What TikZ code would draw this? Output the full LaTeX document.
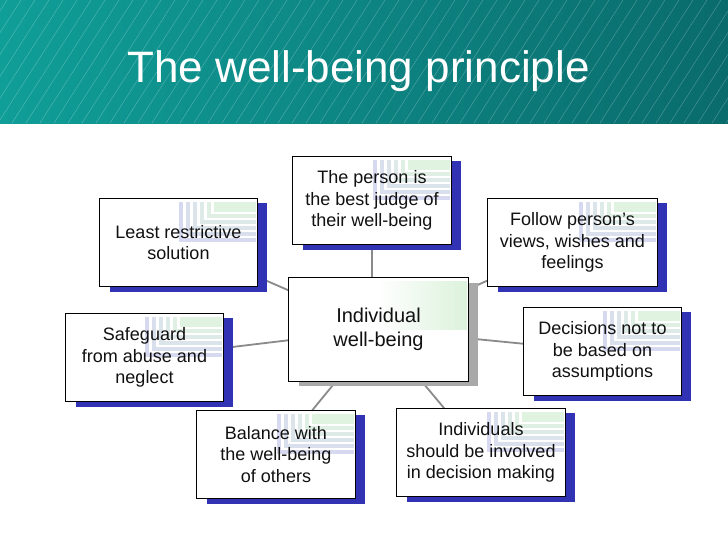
\documentclass[tikz,border=0pt]{standalone}
\usepackage{fontspec}
\setmainfont{Liberation Sans}
\usetikzlibrary{calc}
\definecolor{tealL}{HTML}{109E98}
\definecolor{tealR}{HTML}{0A6B6C}
\definecolor{shblue}{HTML}{3232B4}
\definecolor{shgray}{HTML}{A9A9A9}
\definecolor{conngray}{HTML}{8A8A8A}
\definecolor{lav}{HTML}{C3C6E8}
\definecolor{lgreen}{HTML}{D3EFD3}
\definecolor{txt}{HTML}{111111}
\pgfdeclarelayer{bg}
\pgfdeclarelayer{mid}
\pgfsetlayers{bg,mid,main}
\newcommand\mybox[2]{%
  \fill[#2] ($(#1.south west)+(10,5)$) rectangle ($(#1.north east)+(10,5)$);
  \filldraw[fill=white, draw=black, line width=0.9pt] (#1.south west) rectangle (#1.north east);}
\newcommand\stripes[1]{%
  \begin{scope}[shift={(#1.north east)}]
    \foreach \i in {0,...,4} {
      \pgfmathtruncatemacro\mix{100-\i*20}
      \fill[lav!\mix!lgreen, fill opacity=0.65] ({-78+7*\i},4) rectangle ({-74+7*\i},{44-6*\i});
      \fill[lav!\mix!lgreen, fill opacity=0.65] ({-74+7*\i},{40-6*\i}) rectangle (-1,{44-6*\i});
    }
    \fill[lgreen, fill opacity=0.7] (-43,4) rectangle (-1,14);
  \end{scope}}
\begin{document}
\begin{tikzpicture}[x=1pt,y=-1pt,
  box/.style={rectangle, minimum width=#1, minimum height=88pt, inner sep=0pt,
    align=center, text=txt, font=\fontsize{18}{21.5}\selectfont},
  conn/.style={draw=conngray, line width=1.8pt}]
\useasboundingbox (0,0) rectangle (728,546);

\node[anchor=base, text=white, font=\fontsize{44}{44}\selectfont] (title) at (358.5,82) {The well-being principle};

\node[box=179pt, minimum height=103pt, font=\fontsize{20}{24}\selectfont] (hub) at (378.5,329.5) {Individual\\well-being};
\node[box=158pt] (judge) at (372,200.5) {The person is\\the best judge of\\their well-being};
\node[box=157pt] (least) at (178.5,242.5) {Least restrictive\\solution};
\node[box=169pt] (follow) at (572.5,242.5) {Follow person’s\\views, wishes and\\feelings};
\node[box=157pt] (safe) at (144.5,357.5) {Safeguard\\from abuse and\\neglect};
\node[box=157pt] (decide) at (602.5,351.5) {Decisions not to\\be based on\\assumptions};
\node[box=158pt] (balance) at (276,454.5) {Balance with\\the well-being\\of others};
\node[box=168pt] (involve) at (481,452.5) {Individuals\\should be involved\\in decision making};

\begin{pgfonlayer}{bg}
  \fill[white] (0,0) rectangle (728,546);
  \shade[left color=tealL, right color=tealR] (0,0) rectangle (728,123);
  \begin{scope}
    \clip (0,0) rectangle (728,123);
    \foreach \x in {-100,-86,...,740}
      \draw[white, opacity=0.3, line width=0.4pt] (\x,123) -- ({\x+79},0);
  \end{scope}
  \draw[conn] (judge.south) -- (judge.south |- hub.north);
  \draw[conn] (hub) -- (least);
  \draw[conn] (hub) -- (follow);
  \draw[conn] (hub) -- (safe);
  \draw[conn] (hub) -- (decide);
  \draw[conn] (hub) -- (balance);
  \draw[conn] (hub) -- (involve);
\end{pgfonlayer}

\begin{pgfonlayer}{mid}
  \mybox{hub}{shgray}
  \begin{scope}[shift={(hub.north east)}]
    \shade[left color=white, right color=lgreen, fill opacity=0.8] (-90,4) rectangle (-1,52);
  \end{scope}
  \foreach \n in {judge,least,follow,safe,decide,balance,involve} {
    \mybox{\n}{shblue}
    \stripes{\n}
  }
\end{pgfonlayer}
\end{tikzpicture}
\end{document}
